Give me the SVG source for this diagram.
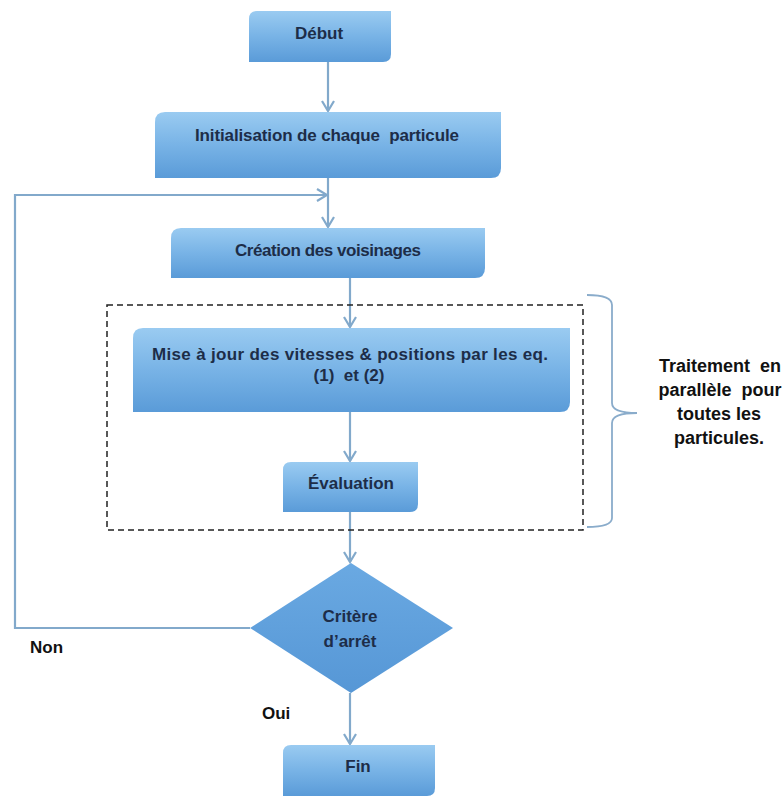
<svg xmlns="http://www.w3.org/2000/svg" width="784" height="796" viewBox="0 0 784 796">
<defs>
<linearGradient id="g" x1="0" y1="0" x2="0" y2="1">
<stop offset="0" stop-color="#9acbf1"/>
<stop offset="0.5" stop-color="#78b3e6"/>
<stop offset="1" stop-color="#5a9bd8"/>
</linearGradient>
<linearGradient id="gd" x1="0" y1="0" x2="0" y2="1">
<stop offset="0" stop-color="#6aa9e2"/>
<stop offset="1" stop-color="#5697d6"/>
</linearGradient>
<marker id="a" markerWidth="14" markerHeight="14" refX="12" refY="7" orient="auto" markerUnits="userSpaceOnUse">
<path d="M2,1 L12,7 L2,13" fill="none" stroke="#82a9cb" stroke-width="2.2"/>
</marker>
</defs>
<style>
.box{fill:url(#g);}
.t{font-family:"Liberation Sans",Arial,sans-serif;font-weight:bold;font-size:17px;fill:#1d2d48;text-anchor:middle;}
.lbl{font-family:"Liberation Sans",Arial,sans-serif;font-weight:bold;font-size:17px;fill:#111;}
.side{font-size:18px;}
.c{fill:none;stroke:#82a9cb;stroke-width:2.2;}
</style>
<rect width="784" height="796" fill="#ffffff"/>

<g id="connectors">
<line class="c" x1="328" y1="62" x2="328" y2="111" marker-end="url(#a)"/>
<line class="c" x1="328" y1="178" x2="328" y2="227" marker-end="url(#a)"/>
<polyline class="c" points="250,628 15,628 15,195 327,195" marker-end="url(#a)"/>
<line class="c" x1="350" y1="278" x2="350" y2="327" marker-end="url(#a)"/>
<line class="c" x1="350" y1="412" x2="350" y2="461" marker-end="url(#a)"/>
<line class="c" x1="350" y1="512" x2="350" y2="562" marker-end="url(#a)"/>
<line class="c" x1="350" y1="693" x2="350" y2="744" marker-end="url(#a)"/>
</g>

<g id="parallel-group">
<rect x="107" y="305" width="476" height="225" fill="none" stroke="#222" stroke-width="1.5" stroke-dasharray="6,4"/>
<path d="M587,295 Q612,295 612,305 V403 Q612,413 637,413 Q612,413 612,423 V518 Q612,527 587,527" fill="none" stroke="#8aaccb" stroke-width="1.8"/>
<text class="lbl side" text-anchor="middle" xml:space="preserve"><tspan x="720" y="372">Traitement  en</tspan><tspan x="720" y="396">parallèle  pour</tspan><tspan x="719" y="420">toutes les</tspan><tspan x="719" y="444">particules.</tspan></text>
</g>

<g id="debut">
<path class="box" d="M257,11 H391 V54 Q391,62 383,62 H249 V19 Q249,11 257,11 Z"/>
<text class="t" x="319" y="39">Début</text>
</g>

<g id="init">
<path class="box" d="M165,112 H501 V168 Q501,178 491,178 H155 V122 Q155,112 165,112 Z"/>
<text class="t" x="327" y="141" xml:space="preserve" textLength="264">Initialisation de chaque  particule</text>
</g>

<g id="creation">
<path class="box" d="M181,228 H485 V268 Q485,278 475,278 H171 V238 Q171,228 181,228 Z"/>
<text class="t" x="328" y="256" textLength="186">Création des voisinages</text>
</g>

<g id="maj">
<path class="box" d="M143,328 H570 V402 Q570,412 560,412 H133 V338 Q133,328 143,328 Z"/>
<text class="t" xml:space="preserve"><tspan x="350" y="360" textLength="396">Mise à jour des vitesses &amp; positions par les eq.</tspan><tspan x="349" y="381">(1)  et (2)</tspan></text>
</g>

<g id="evaluation">
<path class="box" d="M291,462 H418 V504 Q418,512 410,512 H283 V470 Q283,462 291,462 Z"/>
<text class="t" x="351" y="489">Évaluation</text>
</g>

<g id="critere">
<polygon points="351,563 453,628 351,693 250,628" fill="url(#gd)"/>
<text class="t"><tspan x="350" y="622">Critère</tspan><tspan x="350" y="647">d’arrêt</tspan></text>
</g>

<g id="fin">
<path class="box" d="M291,745 H435 V788 Q435,796 427,796 H283 V753 Q283,745 291,745 Z"/>
<text class="t" x="358" y="772">Fin</text>
</g>

<text class="lbl" x="30" y="653">Non</text>
<text class="lbl" x="262" y="719">Oui</text>
</svg>
